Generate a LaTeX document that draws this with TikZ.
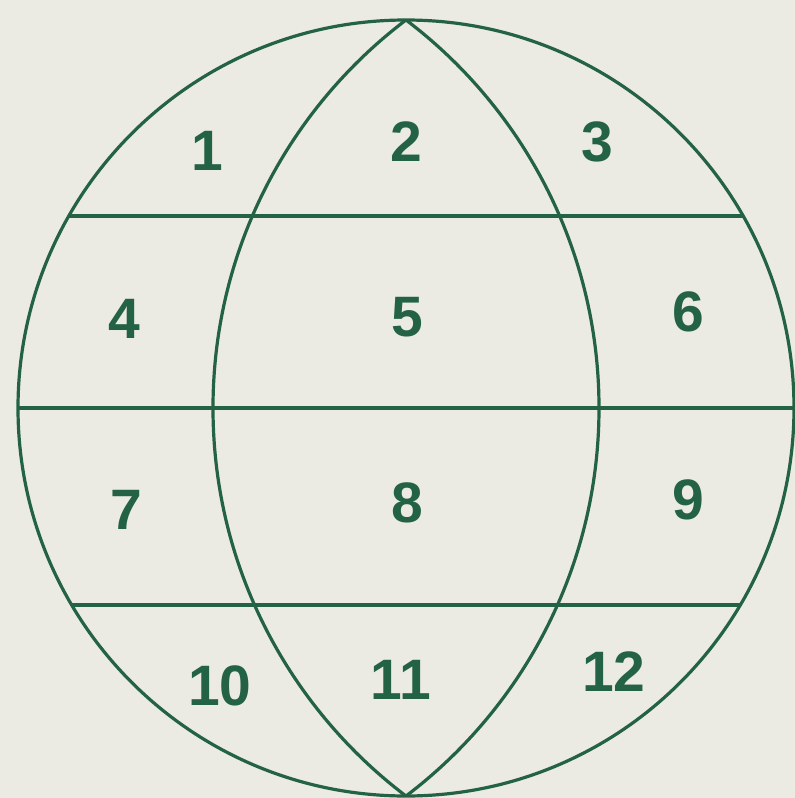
\documentclass[tikz,border=0pt]{standalone}
\usepackage{fontspec}
\setmainfont{Liberation Sans}
\definecolor{bg}{RGB}{236,235,227}
\definecolor{gr}{RGB}{36,98,70}
\tikzset{
  lbl/.style={text=gr, font=\fontsize{57}{57}\selectfont\bfseries, inner sep=0pt, anchor=center},
  ln/.style={draw=gr, line width=3.2pt}
}
\begin{document}
\begin{tikzpicture}[x=1pt,y=-1pt]
\fill[bg] (0,0) rectangle (795,798);
\useasboundingbox (0,0) rectangle (795,798);
\coordinate (C) at (406,408);
\begin{scope}
  \clip (C) circle[radius=388];
  \draw[ln] (699.5,408) circle[radius=486.5];
  \draw[ln] (112.5,408) circle[radius=486.5];
  \draw[ln] (0,216) -- (795,216);
  \draw[ln] (0,408) -- (795,408);
  \draw[ln] (0,605) -- (795,605);
\end{scope}
\draw[ln] (C) circle[radius=388];
\node[lbl] (n1) at (207,151) {1};
\node[lbl] (n2) at (406,142) {2};
\node[lbl] (n3) at (597,142) {3};
\node[lbl] (n4) at (124,319) {4};
\node[lbl] (n5) at (407,317) {5};
\node[lbl] (n6) at (688,312) {6};
\node[lbl] (n7) at (126,510) {7};
\node[lbl] (n8) at (407,503) {8};
\node[lbl] (n9) at (688,500) {9};
\node[lbl] (n10) at (220,686) {10};
\node[lbl] (n11) at (401,680) {11};
\node[lbl] (n12) at (614,672) {12};
\end{tikzpicture}
\end{document}
